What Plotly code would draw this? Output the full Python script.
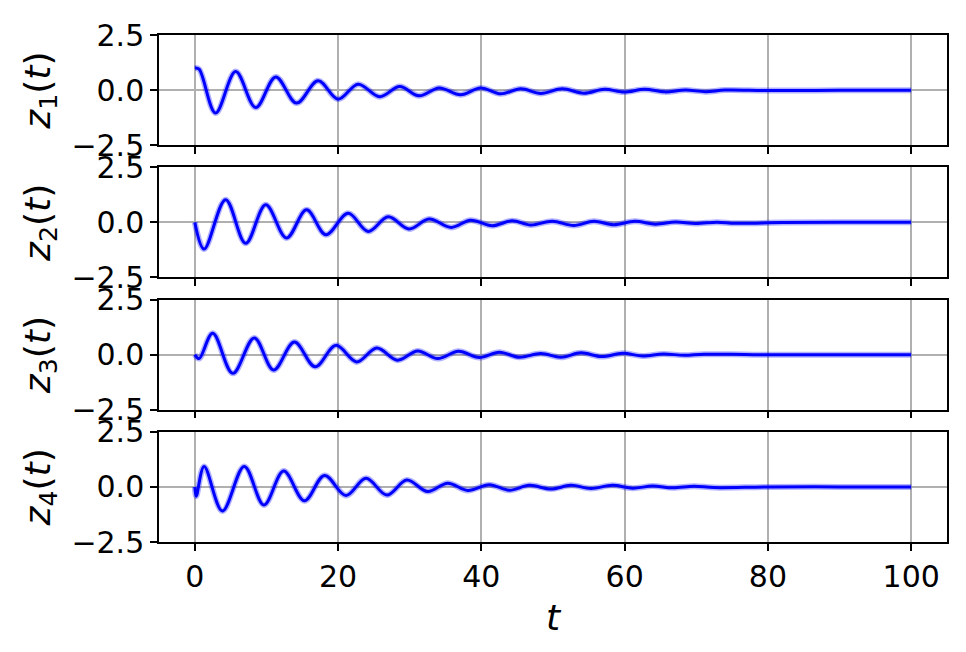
import plotly.graph_objects as go
from plotly.subplots import make_subplots

# extrema of each state trajectory
t1 = [0, 0.6, 2.9, 5.7, 8.5, 11.3, 14.2, 17.2, 20.0, 22.8, 25.8, 28.6, 31.3, 34.1, 37.1,
      39.9, 42.7, 45.5, 48.3, 51.3, 54.3, 57.2, 59.9, 62.8, 65.6, 68.5, 71.3, 74.0, 80, 90, 100]
z1 = [1.0, 0.95, -1.04, 0.84, -0.79, 0.60, -0.59, 0.42, -0.41, 0.27, -0.30, 0.16, -0.26, 0.10, -0.21,
      0.10, -0.17, 0.06, -0.15, 0.06, -0.14, 0.04, -0.09, 0.04, -0.08, 0.0, -0.07, 0.0, -0.02, -0.01, -0.01]

t2 = [0, 1.3, 4.3, 7.1, 9.9, 12.8, 15.6, 18.3, 21.4, 24.2, 27.0, 29.9, 32.7, 35.8, 38.5,
      41.5, 44.3, 46.9, 49.9, 52.9, 55.7, 58.5, 61.4, 64.3, 67.1, 69.9, 72.9, 75.5, 82, 90, 100]
z2 = [0.0, -1.21, 1.03, -0.95, 0.80, -0.71, 0.57, -0.56, 0.41, -0.41, 0.25, -0.30, 0.15, -0.23, 0.10,
      -0.15, 0.07, -0.12, 0.05, -0.14, 0.05, -0.11, 0.05, -0.08, 0.02, -0.05, 0.01, -0.04, -0.01, 0.0, 0.0]

t3 = [0, 0.6, 2.5, 5.3, 8.3, 11.0, 13.9, 16.8, 19.7, 22.6, 25.4, 28.3, 31.1, 33.9, 36.8,
      39.7, 42.5, 45.3, 48.3, 51.1, 53.9, 56.8, 59.7, 62.5, 65.4, 68.3, 71.1, 78, 90, 100]
z3 = [0.0, -0.18, 0.97, -0.85, 0.76, -0.70, 0.57, -0.55, 0.42, -0.33, 0.30, -0.25, 0.17, -0.18, 0.15,
      -0.13, 0.11, -0.12, 0.05, -0.12, 0.08, -0.09, 0.06, -0.06, 0.03, -0.03, 0.02, 0.0, 0.0, 0.0]

t4 = [0, 0.2, 1.3, 3.85, 6.9, 9.65, 12.4, 15.3, 18.1, 21.1, 23.9, 26.8, 29.6, 32.5, 35.3,
      38.1, 41.1, 43.9, 46.7, 49.7, 52.5, 55.3, 58.3, 61.1, 63.9, 66.7, 69.7, 72.5, 80, 90, 100]
z4 = [0.0, -0.42, 0.93, -1.09, 0.93, -0.82, 0.72, -0.63, 0.52, -0.39, 0.39, -0.37, 0.31, -0.21, 0.17,
      -0.16, 0.10, -0.15, 0.07, -0.10, 0.07, -0.07, 0.07, -0.06, 0.04, -0.04, 0.03, -0.03, 0.0, 0.0, 0.0]

series = [(t1, z1), (t2, z2), (t3, z3), (t4, z4)]
y_ticks = [-2.5, 0, 2.5]
y_tick_text = ["\u22122.5", "0.0", "2.5"]
x_ticks = [0, 20, 40, 60, 80, 100]

fig = make_subplots(rows=4, cols=1, shared_xaxes=True, vertical_spacing=0.0435)

for i, (t, z) in enumerate(series, start=1):
    # faint spread of the trajectories
    fig.add_trace(go.Scatter(x=t, y=z, mode="lines",
                             line=dict(color="rgba(0,0,255,0.3)", width=6, shape="spline", smoothing=1.0),
                             showlegend=False, hoverinfo="skip"), row=i, col=1)
    fig.add_trace(go.Scatter(x=t, y=z, mode="lines",
                             line=dict(color="blue", width=3, shape="spline", smoothing=1.0),
                             showlegend=False), row=i, col=1)
    fig.update_yaxes(range=[-2.5, 2.5], tickvals=y_ticks, ticktext=y_tick_text,
                     title_text=f"<i>z</i><sub>{i}</sub>(<i>t</i>)", title_standoff=10,
                     row=i, col=1)

fig.update_xaxes(range=[-5, 105], tickvals=x_ticks, showgrid=True, gridcolor="#b0b0b0",
                 gridwidth=1.5, zeroline=False, showline=True, linecolor="black", linewidth=1.5,
                 mirror=True, ticks="outside", ticklen=7, tickwidth=1.5, tickcolor="black")
fig.update_yaxes(showgrid=False, zeroline=True, zerolinecolor="#b0b0b0", zerolinewidth=1.5,
                 showline=True, linecolor="black", linewidth=1.5, mirror=True,
                 ticks="outside", ticklen=7, tickwidth=1.5, tickcolor="black")
fig.update_xaxes(title_text="<i>t</i>", title_standoff=12, row=4, col=1)

# the page body adds 8px around the figure
fig.update_layout(
    width=950, height=636,
    margin=dict(l=151, r=9, t=22, b=102),
    plot_bgcolor="white", paper_bgcolor="white",
    font=dict(family="DejaVu Sans", size=30, color="black"),
)

fig.write_html("out.html")
